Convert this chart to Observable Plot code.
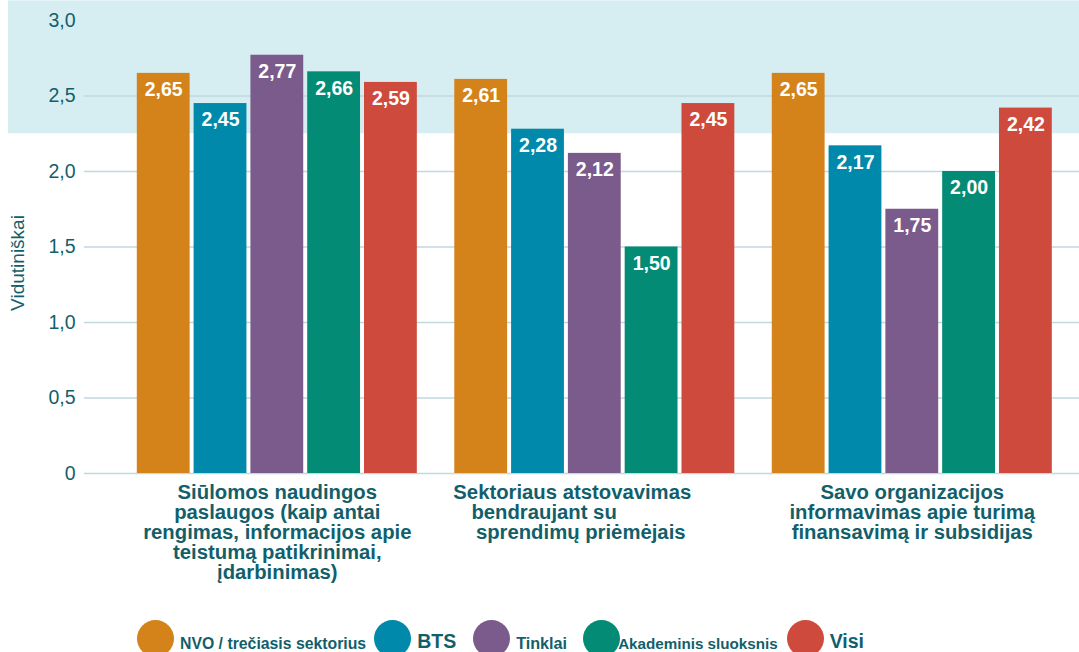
<!DOCTYPE html>
<html>
<head>
<meta charset="utf-8">
<script src="https://cdn.jsdelivr.net/npm/d3@7"></script>
<script src="https://cdn.jsdelivr.net/npm/@observablehq/plot@0.6"></script>
<style>
  html, body { margin: 0; padding: 0; background: #ffffff; }
  body { width: 1079px; height: 652px; overflow: hidden; font-family: "Liberation Sans", Arial, sans-serif; }
  #chart { position: relative; width: 1079px; height: 615px; }
  #chart svg { display: block; position: absolute; left: 0; top: 0; }
  #legend { display: flex; align-items: center; height: 37px; padding-left: 137px; margin-top: 5px; }
  .item { display: flex; align-items: center; height: 37px; }
  .dot { width: 37px; height: 37px; border-radius: 50%; flex: none; }
  .lab { font-weight: bold; color: #125f6b; white-space: nowrap; position: relative; }
</style>
</head>
<body>
<div id="chart"></div>
<div id="legend"></div>
<script>
// ---- data ----
const categories = [
  "Siūlomos naudingos paslaugos (kaip antai rengimas, informacijos apie teistumą patikrinimai, įdarbinimas)",
  "Sektoriaus atstovavimas bendraujant su sprendimų priėmėjais",
  "Savo organizacijos informavimas apie turimą finansavimą ir subsidijas"
];
// tick labels as wrapped in the original (the second one keeps its trailing blanks)
const categoryLabels = [
  "Siūlomos naudingos\npaslaugos (kaip antai\nrengimas, informacijos apie\nteistumą patikrinimai,\nįdarbinimas)",
  "Sektoriaus atstovavimas\u00A0\u00A0\u00A0\u00A0\u00A0\u00A0\u00A0\u00A0\nbendraujant su\u00A0\u00A0\u00A0\u00A0\u00A0\u00A0\u00A0\u00A0\u00A0\u00A0\u00A0\u00A0\u00A0\u00A0\u00A0\u00A0\u00A0\u00A0\nsprendimų priėmėjais\u00A0\u00A0\u00A0\u00A0\u00A0",
  "Savo organizacijos\ninformavimas apie turimą\nfinansavimą ir subsidijas"
];
const series = ["NVO / trečiasis sektorius", "BTS", "Tinklai", "Akademinis sluoksnis", "Visi"];
const nvoValues      = [2.65, 2.61, 2.65];
const btsValues      = [2.45, 2.28, 2.17];
const tinklaiValues  = [2.77, 2.12, 1.75];
const akademValues   = [2.66, 1.50, 2.00];
const visiValues     = [2.59, 2.45, 2.42];
const yTicks = [0, 0.5, 1, 1.5, 2, 2.5, 3];
const gridTicks = [0, 0.5, 1, 1.5, 2, 2.5];
const highlightBand = [{from: 2.25, to: 3.13}];
const yLabel = "Vidutiniškai";

// ---- styles ----
const colors = ["#d4821a", "#0089aa", "#7b5b8c", "#038b75", "#ce4a3c"];
const teal = "#125f6b";

// ---- build table ----
const seriesValues = [nvoValues, btsValues, tinklaiValues, akademValues, visiValues];
const data = [];
series.forEach((s, si) => seriesValues[si].forEach((v, ci) => data.push({cat: categories[ci], series: s, value: v})));

const fmt2 = v => v.toFixed(2).replace(".", ",");
const fmtTick = v => v === 0 ? "0" : v.toFixed(1).replace(".", ",");

const common = {
  width: 1079,
  height: 615,
  marginLeft: 84,
  marginRight: 0,
  marginTop: 20,
  marginBottom: 142
};

// background layer: highlight band, gridlines, y axis
const back = Plot.plot({
  ...common,
  style: {fontFamily: "'Liberation Sans', Arial, sans-serif", background: "#ffffff", overflow: "visible"},
  y: {domain: [0, 3]},
  marks: [
    Plot.rect(highlightBand, {y1: "from", y2: "to", fill: "#d6eef2", insetLeft: -76}),
    Plot.ruleY(gridTicks, {stroke: "#bfd9df", strokeWidth: 1.5}),
    Plot.axisY({
      ticks: yTicks, tickSize: 0, tickPadding: 9, tickFormat: fmtTick,
      fontSize: 19.5, fill: teal, label: null
    }),
    Plot.text([yLabel], {
      text: d => d, frameAnchor: "left", rotate: -90, textAnchor: "middle", lineAnchor: "middle",
      dx: -67, dy: 16, fontSize: 19, fill: teal
    })
  ]
});

// foreground layer: grouped bars, value labels, category labels
const front = Plot.plot({
  ...common,
  style: {fontFamily: "'Liberation Sans', Arial, sans-serif", background: "transparent", overflow: "visible"},
  fx: {domain: categories, paddingInner: 0.118, paddingOuter: 0.126, align: 0.66, round: false},
  x: {domain: series, paddingInner: 0.07, paddingOuter: 0, axis: null, round: false},
  y: {domain: [0, 3], axis: null},
  color: {domain: series, range: colors},
  marks: [
    Plot.axisFx({
      anchor: "bottom", tickSize: 0, tickPadding: 11,
      tickFormat: d => categoryLabels[categories.indexOf(d)],
      fontSize: 20.3, fontWeight: "bold", fill: teal, lineHeight: 0.99, label: null
    }),
    Plot.barY(data, {fx: "cat", x: "series", y: "value", fill: "series"}),
    Plot.text(data, {fx: "cat", x: "series", y: "value", text: d => fmt2(d.value), fill: "white", fontWeight: "bold", fontSize: 19.5, dy: 16.5})
  ]
});
const holder = document.getElementById("chart");
holder.appendChild(back);
holder.appendChild(front);

// ---- legend ----
const legendStyle = [
  {size: 15.8, shift: 5, textGap: 6, after: 8},
  {size: 19.5, shift: 3, textGap: 6, after: 17},
  {size: 16.2, shift: 5, textGap: 6, after: 16},
  {size: 15.2, shift: 5, textGap: -2, after: 9},
  {size: 19.5, shift: 3, textGap: 6, after: 0}
];
const legend = document.getElementById("legend");
series.forEach((s, i) => {
  const st = legendStyle[i];
  const item = document.createElement("div");
  item.className = "item";
  item.style.marginRight = st.after + "px";
  const dot = document.createElement("div");
  dot.className = "dot";
  dot.style.background = colors[i];
  const lab = document.createElement("span");
  lab.className = "lab";
  lab.textContent = s;
  lab.style.fontSize = st.size + "px";
  lab.style.marginLeft = st.textGap + "px";
  lab.style.top = st.shift + "px";
  item.appendChild(dot);
  item.appendChild(lab);
  legend.appendChild(item);
});
</script>
</body>
</html>
